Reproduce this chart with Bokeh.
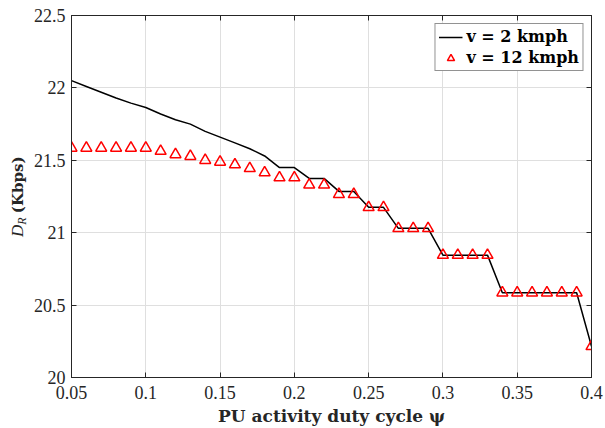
from bokeh.plotting import figure
from bokeh.layouts import row
from bokeh.models import (ColumnDataSource, Div, FixedTicker, Legend, LegendItem,
                          LinearAxis, Range1d)
from bokeh.embed import file_html
from bokeh.resources import INLINE

# PU activity duty cycle (x) and achievable rate D_R in Kbps for two speeds
duty_cycle = [0.05, 0.06, 0.07, 0.08, 0.09, 0.10, 0.11, 0.12, 0.13, 0.14,
              0.15, 0.16, 0.17, 0.18, 0.19, 0.20, 0.21, 0.22, 0.23, 0.24,
              0.25, 0.26, 0.27, 0.28, 0.29, 0.30, 0.31, 0.32, 0.33, 0.34,
              0.35, 0.36, 0.37, 0.38, 0.39, 0.40]
rate_2kmph = [22.05, 22.01, 21.97, 21.93, 21.895, 21.865, 21.82, 21.78, 21.75, 21.70,
              21.66, 21.62, 21.58, 21.53, 21.45, 21.45, 21.375, 21.375, 21.285, 21.285,
              21.175, 21.175, 21.03, 21.03, 21.03, 20.845, 20.845, 20.845, 20.845, 20.585,
              20.585, 20.585, 20.585, 20.585, 20.585, 20.215]
rate_12kmph = [21.585, 21.585, 21.585, 21.585, 21.585, 21.585, 21.563, 21.54, 21.528, 21.50,
               21.488, 21.47, 21.444, 21.415, 21.38, 21.38, 21.33, 21.33, 21.265, 21.265,
               21.175, 21.175, 21.03, 21.03, 21.03, 20.845, 20.845, 20.845, 20.845, 20.585,
               20.585, 20.585, 20.585, 20.585, 20.585, 20.215]

x_ticks = [0.05, 0.1, 0.15, 0.2, 0.25, 0.3, 0.35, 0.4]
x_tick_labels = ["0.05", "0.1", "0.15", "0.2", "0.25", "0.3", "0.35", "0.4"]
y_ticks = [20, 20.5, 21, 21.5, 22, 22.5]
y_tick_labels = ["20", "20.5", "21", "21.5", "22", "22.5"]

FONT = "Liberation Serif"
BOLD_FONT = "DejaVu Serif"
INK = "#262626"
GRID = "#dfdfdf"
TICK_SIZE = "18px"

W, H = 605, 428
TITLE_W = 30          # strip on the left holding the vertical y title

src = ColumnDataSource(dict(x=duty_cycle, slow=rate_2kmph, fast=rate_12kmph))

p = figure(width=W - TITLE_W, height=H,
           x_range=Range1d(0.05, 0.4), y_range=Range1d(20, 22.5),
           output_backend="svg", toolbar_location=None,
           min_border_left=71 - TITLE_W, min_border_right=14,
           min_border_top=15, min_border_bottom=50,
           background_fill_color="white", border_fill_color="white")

p.outline_line_color = INK
p.outline_line_width = 1

# main axes: inward ticks, no minor ticks
for ax, ticks, labels in ((p.xaxis[0], x_ticks, x_tick_labels),
                          (p.yaxis[0], y_ticks, y_tick_labels)):
    ax.ticker = FixedTicker(ticks=ticks)
    ax.major_label_overrides = {t: s for t, s in zip(ticks, labels)}
    ax.major_tick_in = 5
    ax.major_tick_out = 0
    ax.minor_tick_line_color = None
    ax.axis_line_color = INK
    ax.major_tick_line_color = INK
    ax.major_label_text_color = INK
    ax.major_label_text_font = FONT
    ax.major_label_text_font_size = TICK_SIZE

p.xaxis[0].major_label_standoff = 8
p.yaxis[0].major_label_standoff = 6
p.xaxis[0].axis_label = "PU activity duty cycle ψ"
p.xaxis[0].axis_label_text_font = BOLD_FONT
p.xaxis[0].axis_label_text_font_style = "bold"
p.xaxis[0].axis_label_text_font_size = "17px"
p.xaxis[0].axis_label_text_color = INK
p.xaxis[0].axis_label_standoff = 4

p.xgrid.ticker = FixedTicker(ticks=x_ticks)
p.ygrid.ticker = FixedTicker(ticks=y_ticks)
for g in (p.xgrid[0], p.ygrid[0]):
    g.grid_line_color = GRID
    g.grid_line_width = 1

# box: mirrored axes on top and right with ticks only
mirror = dict(major_tick_in=5, major_tick_out=0, minor_tick_line_color=None,
              axis_line_color=INK, major_tick_line_color=INK,
              major_label_text_color=None, major_label_standoff=0)
p.add_layout(LinearAxis(ticker=FixedTicker(ticks=x_ticks), **mirror), "above")
p.add_layout(LinearAxis(ticker=FixedTicker(ticks=y_ticks), **mirror), "right")

line_r = p.line("x", "slow", source=src, line_color="black", line_width=1.5)
tri_r = p.scatter("x", "fast", source=src, marker="triangle", size=11,
                  line_color="#ff0000", line_width=1.5, fill_color=None)

legend = Legend(items=[LegendItem(label="v = 2 kmph", renderers=[line_r]),
                       LegendItem(label="v = 12 kmph", renderers=[tri_r])],
                location="top_right", margin=8, padding=3, spacing=2,
                glyph_width=24, glyph_height=18, label_height=18, label_standoff=4,
                border_line_color=INK, border_line_width=1,
                background_fill_color="white", background_fill_alpha=1.0,
                label_text_font=BOLD_FONT, label_text_font_style="bold",
                label_text_font_size="16px", label_text_color="black")
p.add_layout(legend)

# vertical y title  D_R (Kbps) with italic symbol, subscript and bold unit
y_title_html = (
    f'<div style="position:relative;width:{TITLE_W}px;height:{H}px;">'
    '<div style="position:absolute;left:8px;top:237px;transform-origin:0 0;'
    'transform:rotate(-90deg);white-space:nowrap;line-height:20px;'
    f"font-family:'{FONT}';font-size:17px;color:{INK};\">"
    '<i>D</i><sub style="font-size:12px;vertical-align:-3px;"><i>R</i></sub> '
    f"<b style=\"font-family:'{BOLD_FONT}';font-size:15px;\">(Kbps)</b>"
    '</div></div>'
)
y_title = Div(text=y_title_html, width=TITLE_W, height=H, margin=0)

open("out.html", "w").write(file_html(row(y_title, p), INLINE))
